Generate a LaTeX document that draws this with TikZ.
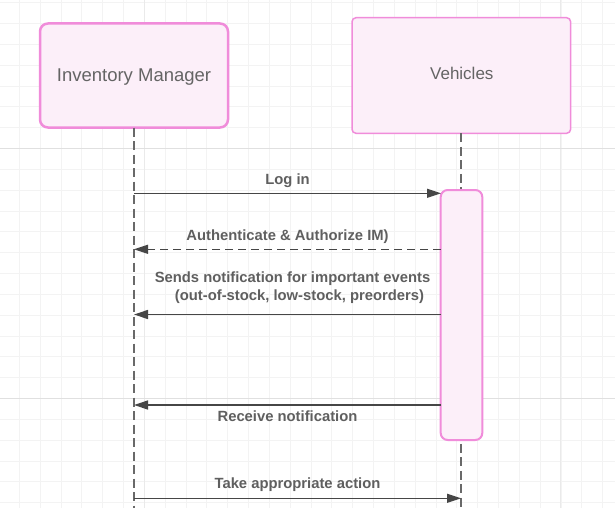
\documentclass[tikz,border=0pt]{standalone}
\usepackage{fontspec}
\setmainfont{Liberation Sans}
\usetikzlibrary{arrows.meta}
\definecolor{pinkb}{RGB}{240,140,218}
\definecolor{pinkf}{RGB}{252,239,249}
\definecolor{gridmin}{RGB}{243,243,243}
\definecolor{gridmaj}{RGB}{224,224,224}
\definecolor{gridmajv}{RGB}{234,234,234}
\definecolor{boxtxt}{RGB}{100,100,100}
\definecolor{lbltxt}{RGB}{95,95,95}
\definecolor{lnclr}{RGB}{70,70,70}
\definecolor{lifeclr}{RGB}{105,105,105}
\tikzset{
  actor/.style={draw=pinkb, fill=pinkf, inner sep=0pt, text=boxtxt},
  lifeline/.style={draw=lifeclr, line width=1.5pt, dash pattern=on 9pt off 4.5pt},
  msg/.style={draw=lnclr, line width=1.3pt, -{Triangle[length=14pt,width=9pt]}},
  reply/.style={msg, dash pattern=on 8pt off 5pt},
  lbl/.style={font=\bfseries\fontsize{14.8}{17}\selectfont, text=lbltxt, anchor=base, inner sep=0pt}
}
\begin{document}
\begin{tikzpicture}[x=1pt,y=-1pt]
\useasboundingbox (0,0) rectangle (615,508);
\fill[white] (0,0) rectangle (615,508);
% grid
\foreach \k in {0,...,30} {
  \draw[gridmin, line width=0.8pt] ({-1.5+20.83*\k},0) -- ({-1.5+20.83*\k},508);
}
\foreach \k in {0,...,24} {
  \draw[gridmin, line width=0.8pt] (0,{2.7+20.83*\k}) -- (615,{2.7+20.83*\k});
}
\draw[gridmajv, line width=1pt] (144.3,0) -- (144.3,508);
\draw[gridmajv, line width=1pt] (560.8,0) -- (560.8,508);
\draw[gridmaj, line width=1pt] (0,148.5) -- (615,148.5);
\draw[gridmaj, line width=1pt] (0,398.5) -- (615,398.5);

% actors
\node[actor, line width=2.5pt, rounded corners=8pt, minimum width=188pt, minimum height=104pt] (im) at (134,75.5) {};
\node[font=\fontsize{18.5}{22}\selectfont, text=boxtxt, anchor=base, inner sep=0pt] (imlabel) at (134,81.7) {Inventory Manager};
\node[actor, line width=1.5pt, rounded corners=4pt, minimum width=218.6pt, minimum height=115.6pt] (veh) at (461.3,75.5) {};
\node[font=\fontsize{17}{20}\selectfont, text=boxtxt, anchor=base, inner sep=0pt] (vehlabel) at (461.8,79.3) {Vehicles};

% lifelines
\coordinate (imtop) at (134,127.7);
\coordinate (imend) at (134,508);
\coordinate (vehtop) at (461,133.3);
\coordinate (vehend) at (461,508);
\draw[lifeline] (imtop) -- (imend);
\draw[lifeline] (vehtop) -- (vehend);

% activation
\node[actor, line width=2pt, rounded corners=7pt, minimum width=41.6pt, minimum height=250pt] (act) at (461.5,315) {};

% message endpoints
\coordinate (a1) at (134,193.3);
\coordinate (b1) at (441,193.3);
\coordinate (a2) at (134,249.3);
\coordinate (b2) at (441,249.3);
\coordinate (a3) at (134,314.5);
\coordinate (b3) at (441,314.5);
\coordinate (a4) at (134,405);
\coordinate (b4) at (441,405);
\coordinate (a5) at (134,498.3);
\coordinate (b5) at (461,498.3);

\draw[msg] (a1) -- node[lbl, yshift=9.3pt] {Log in} (b1);
\draw[reply] (b2) -- node[lbl, yshift=9.3pt] {Authenticate \& Authorize IM)} (a2);
\draw[msg] (b3) -- node[lbl, xshift=5pt, yshift=32.2pt] {Sends notification for important events}
                   node[lbl, xshift=12pt, yshift=14.5pt] {(out-of-stock, low-stock, preorders)} (a3);
\draw[msg] (b4) -- node[lbl, yshift=-16.7pt] {Receive notification} (a4);
\draw[msg] (a5) -- node[lbl, yshift=10pt] {Take appropriate action} (b5);
\end{tikzpicture}
\end{document}
